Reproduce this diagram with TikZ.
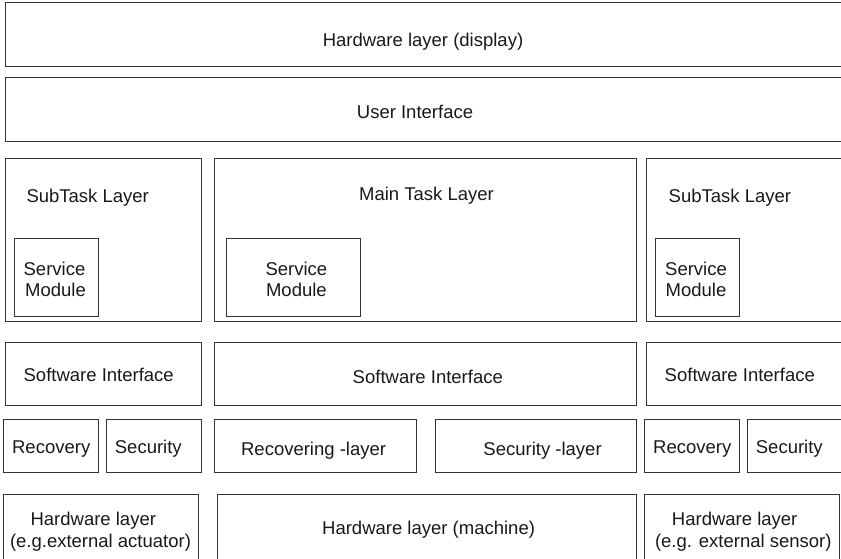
\documentclass[tikz,border=0pt]{standalone}
\usepackage{fontspec}
\setmainfont{Liberation Sans}
\begin{document}
\begin{tikzpicture}[x=1pt,y=-1pt,
  box/.style={draw=black!80,line width=1pt,rectangle,inner sep=0pt,outer sep=0pt,anchor=north west},
  lbl/.style={inner sep=0pt,anchor=base,font=\fontsize{18.5}{21}\selectfont,text=black!90}]
\useasboundingbox (0,0) rectangle (841,558);
\clip (0,0) rectangle (841,558);
% box helper: name, left, top, right, bottom
\newcommand\layerbox[5]{%
  \pgfmathsetmacro\bw{#4-#2}\pgfmathsetmacro\bh{#5-#3}%
  \node[box,minimum width=\bw pt,minimum height=\bh pt] (#1) at (#2,#3) {};}

% top layers
\layerbox{hwdisp}{5.5}{2.5}{852}{66.5}
\layerbox{uif}{5.5}{77.5}{852}{141.5}
% task layers
\layerbox{subL}{5.5}{158.5}{201.5}{321.5}
\layerbox{mainT}{214.5}{158.5}{636.5}{321.5}
\layerbox{subR}{646.5}{158.5}{852}{321.5}
\layerbox{smL}{14.5}{238.5}{98.5}{316.5}
\layerbox{smM}{226.5}{238.5}{360.5}{316.5}
\layerbox{smR}{655.5}{238.5}{739.5}{316.5}
% software interfaces
\layerbox{siL}{5.5}{342.5}{201.5}{405.5}
\layerbox{siM}{214.5}{342.5}{636.5}{405.5}
\layerbox{siR}{646.5}{342.5}{852}{405.5}
% recovery / security
\layerbox{recL}{3.5}{419.5}{98.5}{472.5}
\layerbox{secL}{106.5}{419.5}{201.5}{472.5}
\layerbox{recM}{214.5}{419.5}{416.5}{472.5}
\layerbox{secM}{435.5}{419.5}{636.5}{472.5}
\layerbox{recR}{644.5}{419.5}{739.5}{472.5}
\layerbox{secR}{747.5}{419.5}{852}{472.5}
% hardware
\layerbox{hwL}{3.5}{494.5}{198.5}{575}
\layerbox{hwM}{217.5}{494.5}{636.5}{575}
\layerbox{hwR}{644.5}{494.5}{839.5}{575}

% labels
\node[lbl] (thwdisp) at (423,46) {Hardware layer (display)};
\node[lbl] (tuif) at (415,118) {User Interface};
\node[lbl] (tsubL) at (87.7,202.7) {SubTask Layer};
\node[lbl] (tmainT) at (426.5,200) {Main Task Layer};
\node[lbl] (tsubR) at (729.9,202.7) {SubTask Layer};
\node[lbl] (tsmLa) at (54.5,275) {Service};
\node[lbl] (tsmLb) at (55.5,296) {Module};
\node[lbl] (tsmMa) at (296.4,275) {Service};
\node[lbl] (tsmMb) at (296.4,296) {Module};
\node[lbl] (tsmRa) at (696,275) {Service};
\node[lbl] (tsmRb) at (696,296) {Module};
\node[lbl] (tsiL) at (98.7,381) {Software Interface};
\node[lbl] (tsiM) at (427.8,383.3) {Software Interface};
\node[lbl] (tsiR) at (739.8,381) {Software Interface};
\node[lbl] (trecL) at (51.2,453.3) {Recovery};
\node[lbl] (tsecL) at (148.3,453.3) {Security};
\node[lbl] (trecM) at (313.6,455) {Recovering -layer};
\node[lbl] (tsecM) at (542.6,455) {Security -layer};
\node[lbl] (trecR) at (692.3,453.3) {Recovery};
\node[lbl] (tsecR) at (789.3,453.3) {Security};
\node[lbl] (thwLa) at (93.3,525.7) {Hardware layer};
\node[lbl] (thwLb) at (100.5,547.7) {(e.g.external actuator)};
\node[lbl] (thwM) at (428.6,534) {Hardware layer (machine)};
\node[lbl] (thwRa) at (734.7,525.7) {Hardware layer};
\node[lbl] (thwRb) at (743.3,547.7) {(e.g. external sensor)};
\end{tikzpicture}
\end{document}
